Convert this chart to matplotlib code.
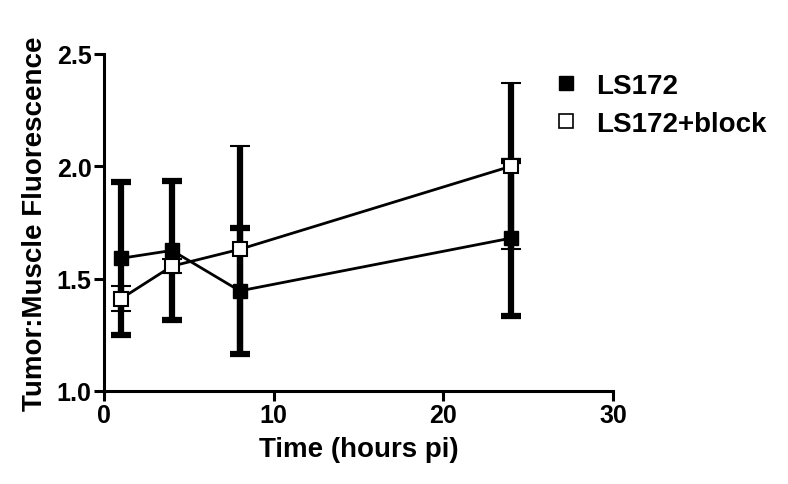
import matplotlib
matplotlib.use("Agg")
import matplotlib.pyplot as plt
from matplotlib.lines import Line2D

plt.rcParams['font.family'] = ['Liberation Sans', 'DejaVu Sans']
plt.rcParams['font.weight'] = 'bold'

time_h = [1, 4, 8, 24]
ls172 = [1.59, 1.625, 1.445, 1.68]
ls172_sd = [0.34, 0.31, 0.28, 0.345]
block = [1.41, 1.555, 1.63, 2.0]
block_sd = [0.055, 0.03, 0.46, 0.37]

fig = plt.figure(figsize=(7.88, 4.85), dpi=100)
ax = fig.add_axes([0.132, 0.192, 0.646, 0.695])

ax.errorbar(time_h, ls172, yerr=ls172_sd, color='black', marker='s', ms=10,
            mfc='black', mec='black', lw=2, elinewidth=4.5, capsize=7, capthick=4.5,
            zorder=3)
ax.errorbar(time_h, block, yerr=block_sd, color='black', marker='s', ms=10,
            mfc='white', mec='black', mew=1.5, lw=2, elinewidth=4.5, capsize=7,
            capthick=4.5, zorder=4)

ax.set_xlim(0, 30)
ax.set_ylim(1.0, 2.5)
ax.set_xticks([0, 10, 20, 30])
ax.set_yticks([1.0, 1.5, 2.0, 2.5])
ax.set_yticklabels(['1.0', '1.5', '2.0', '2.5'])
for s in ['top', 'right']:
    ax.spines[s].set_visible(False)
for s in ['left', 'bottom']:
    ax.spines[s].set_linewidth(2.2)
ax.tick_params(width=2.2, length=7, labelsize=18, direction='out', pad=2)
ax.set_xlabel('Time (hours pi)', fontsize=20, fontweight='bold', labelpad=6)
ax.set_ylabel('Tumor:Muscle Fluorescence', fontsize=20, fontweight='bold', labelpad=6)

handles = [Line2D([], [], ls='none', marker='s', ms=10, mfc='black', mec='black'),
           Line2D([], [], ls='none', marker='s', ms=10, mfc='white', mec='black', mew=1.2)]
fig.legend(handles, ['LS172', 'LS172+block'], loc='upper left',
           bbox_to_anchor=(0.672, 0.9), frameon=False, handlelength=0.8,
           handletextpad=0.68, labelspacing=0.45, prop={'weight': 'bold', 'size': 20})

fig.savefig('out.png', dpi=100)
